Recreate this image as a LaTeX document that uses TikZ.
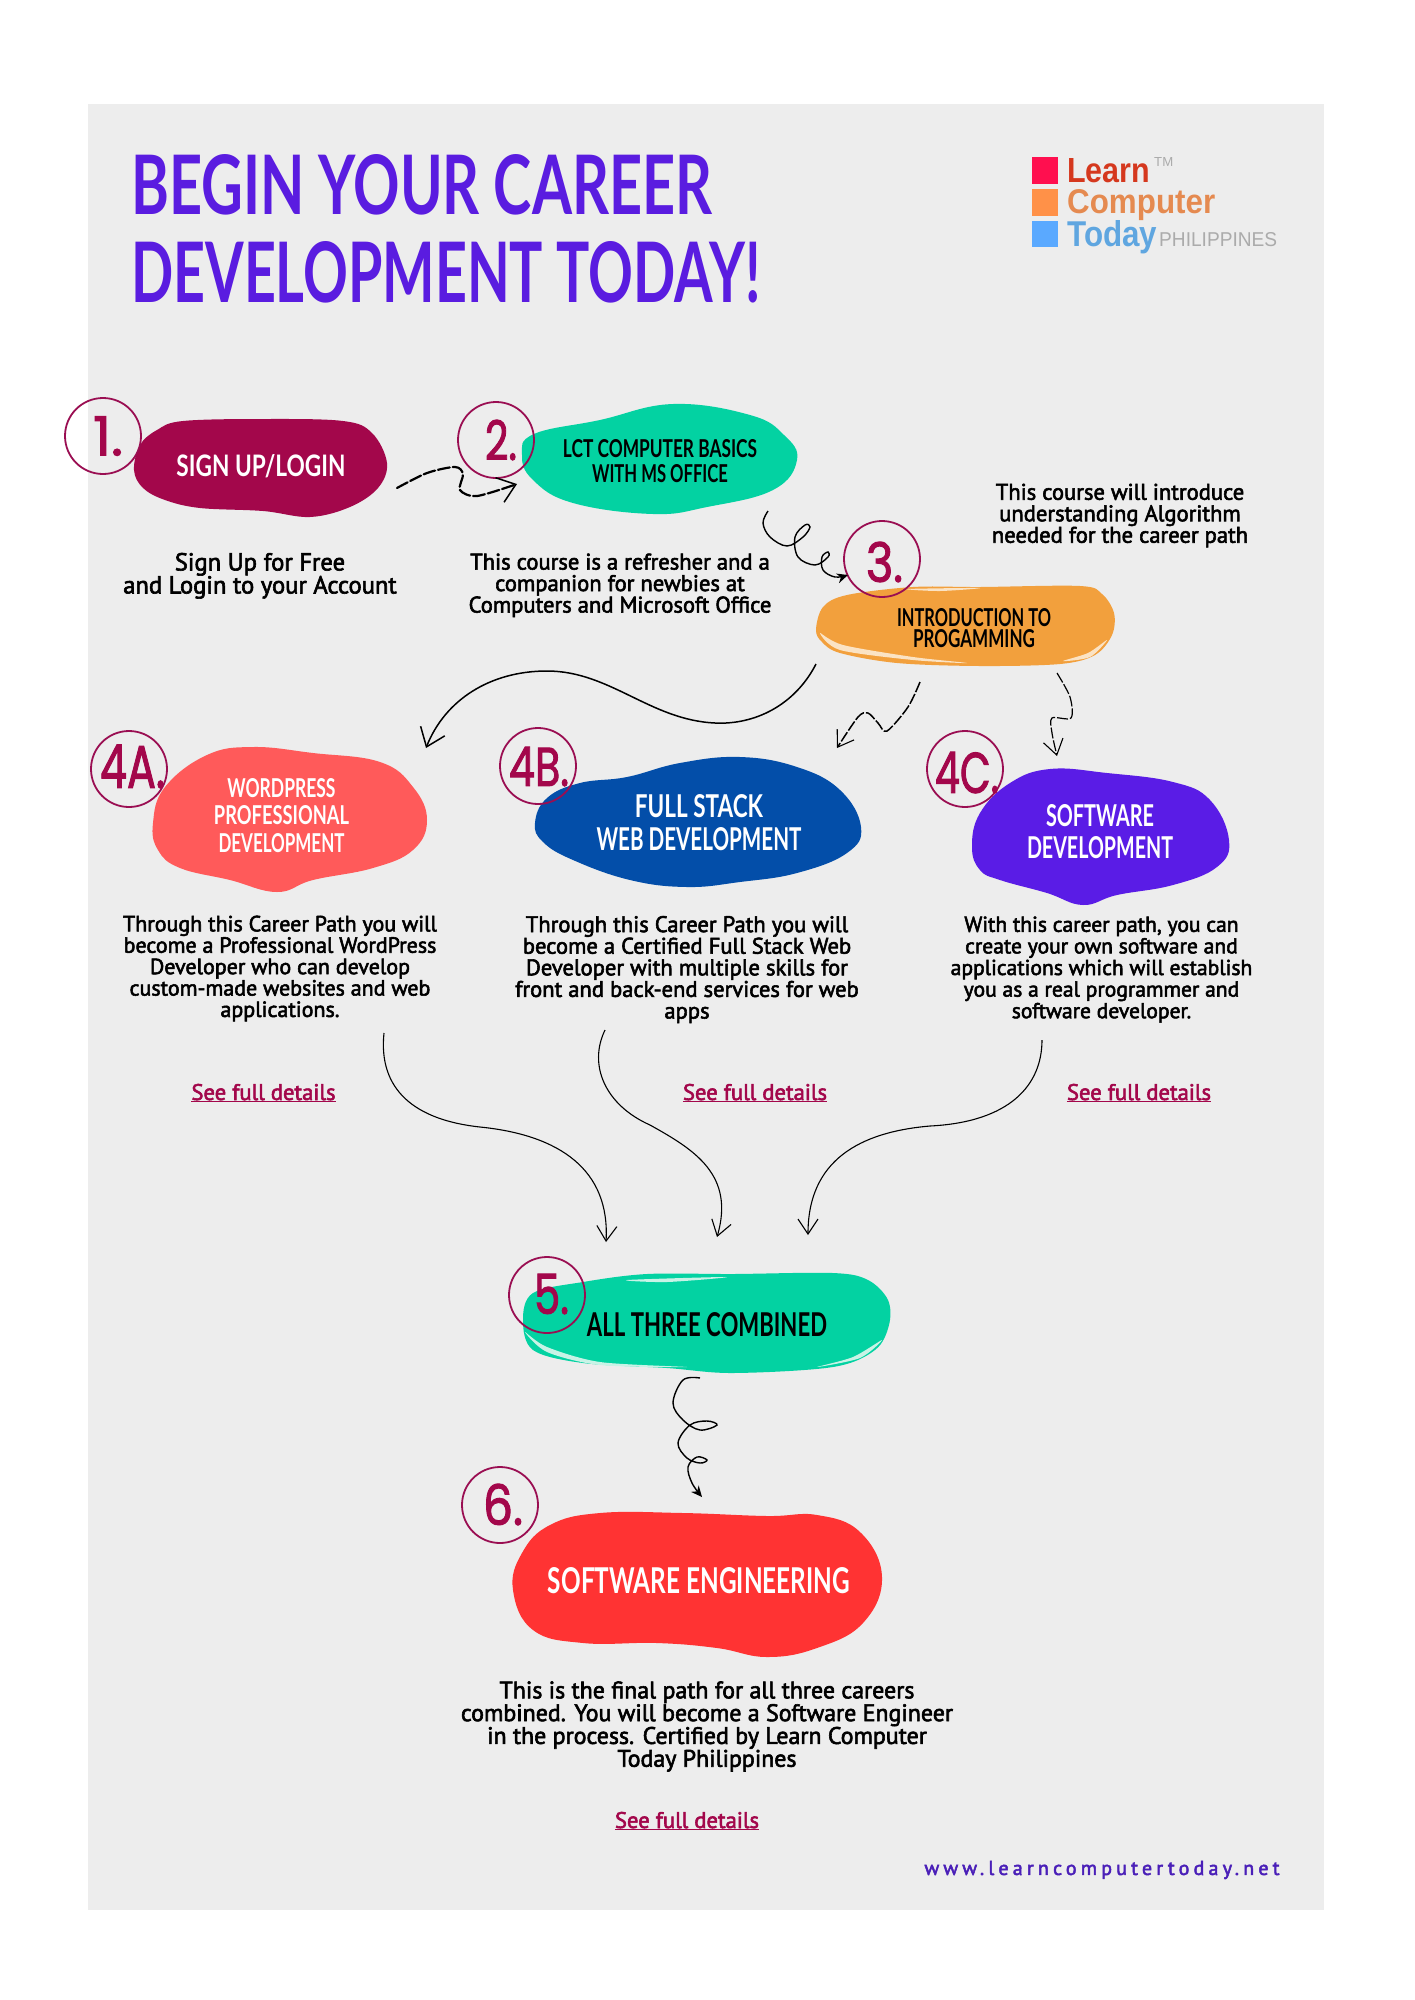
\documentclass[tikz,border=0pt]{standalone}
\usepackage{fontspec}
\usepackage{graphicx}
\usetikzlibrary{arrows.meta}
\newfontfamily\handf{Lato}
\newfontfamily\bodyf[FakeStretch=1.0,FakeBold=2.5]{PT Sans}
\newfontfamily\numf[FakeBold=2]{Poppins}
\newfontfamily\logof{Liberation Sans}
\definecolor{panel}{HTML}{EDEDED}
\definecolor{titlec}{HTML}{5A1CE0}
\definecolor{maroon}{HTML}{A3074B}
\definecolor{ringc}{HTML}{9A0E52}
\definecolor{green1}{HTML}{03D2A2}
\definecolor{orange1}{HTML}{F2A03D}
\definecolor{coral}{HTML}{FF5A5A}
\definecolor{blue1}{HTML}{034EA9}
\definecolor{violet1}{HTML}{5A1CE6}
\definecolor{red1}{HTML}{FF3333}
\definecolor{paleor}{HTML}{FBE3C4}
\definecolor{palegr}{HTML}{C8F3E6}
\definecolor{urlc}{HTML}{4A1FB8}
\newcommand{\lab}[3]{\resizebox{#1pt}{#2pt}{#3}}
\tikzset{
 labtext/.style={font=\handf\bfseries\fontsize{10}{#1}\selectfont,align=center,inner sep=0pt},
 numtext/.style={font=\numf\fontsize{10}{12}\selectfont,text=maroon,inner sep=0pt},
 ring/.style={circle,draw=ringc,line width=1.8pt,minimum size=76pt,inner sep=0pt},
 para/.style 2 args={font=\bodyf\fontsize{#1}{#2}\selectfont,align=center,inner sep=0pt,text=black},
 details/.style={font=\bodyf\fontsize{#1}{#1}\selectfont,text=maroon,inner sep=0pt,anchor=base},
 dashline/.style={line width=2.2pt,dash pattern=on 12pt off 3pt,line cap=round},
 thinline/.style={line width=1.1pt},
 barb/.style={-{Straight Barb[length=17pt,width=26pt,line width=1.5pt]}},
 thinbarb/.style={-{Straight Barb[length=15pt,width=20pt,line width=1.1pt]}},
 smallbarb/.style={-{Stealth[length=11pt,width=10pt]}},
}
\begin{document}
\begin{tikzpicture}[x=1pt,y=-1pt]
\useasboundingbox (0,0) rectangle (1414,2000);
\fill[white] (0,0) rectangle (1414,2000);
\fill[panel] (88,104) rectangle (1324,1910);

% title
\node[labtext=88,align=left,text=titlec,anchor=north west] (title) at (131,154) {\lab{581}{60}{BEGIN YOUR CAREER}\\\lab{629}{61}{DEVELOPMENT TODAY!}};

% logo
\fill[fill={rgb,255:red,255;green,15;blue,79}] (1032,157) rectangle (1058,184);
\fill[fill={rgb,255:red,255;green,145;blue,72}] (1032,189) rectangle (1058,216);
\fill[fill={rgb,255:red,90;green,169;blue,255}] (1032,221) rectangle (1058,247);
\node[anchor=base west,inner sep=0pt,font=\logof\bfseries\fontsize{33}{33}\selectfont,text={rgb,255:red,213;green,56;blue,30}] (logo1) at (1067,182) {\lab{83}{24}{Learn}};
\node[anchor=base west,inner sep=0pt,font=\logof\bfseries\fontsize{33}{33}\selectfont,text={rgb,255:red,229;green,138;blue,80}] (logo2) at (1067,213) {\lab{148}{24}{Computer}};
\node[anchor=base west,inner sep=0pt,font=\logof\bfseries\fontsize{33}{33}\selectfont,text={rgb,255:red,95;green,166;blue,224}] (logo3) at (1067,246) {\lab{90}{26}{Today}};
\node[anchor=base west,inner sep=0pt,font=\logof\fontsize{19}{19}\selectfont,text={rgb,255:red,171;green,171;blue,171}] (logo4) at (1159,246) {\lab{118}{14}{PHILIPPINES}};
\node[anchor=base west,inner sep=0pt,font=\logof\fontsize{12}{12}\selectfont,text={rgb,255:red,171;green,171;blue,171}] (logotm) at (1154,166) {\lab{19}{9}{TM}};

% blobs
\fill[maroon] plot[smooth cycle,tension=0.6] coordinates {(134,470)(140,445)(157,430)(183,421)(263,419)(343,421)(372,433)(387,463)(378,488)(350,507)(310,517)(263,511)(200,508)(165,500)(143,488)};
\fill[green1] plot[smooth cycle,tension=0.7] coordinates {(522,455)(534,434)(600,420)(673,404)(750,415)(784,435)(797,460)(773,490)(707,507)(653,514)(573,503)(533,480)};
\fill[orange1] plot[smooth cycle,tension=0.55] coordinates {(816,630)(823,607)(847,595)(913,587)(980,587)(1080,586)(1102,594)(1114,613)(1112,635)(1095,655)(1060,664)(980,666)(897,663)(840,653)(822,642)};
\fill[paleor] plot[smooth cycle,tension=0.5] coordinates {(820,633)(840,650)(913,660)(967,663)(913,657)(843,645)};
\fill[paleor] plot[smooth cycle,tension=0.5] coordinates {(1107,640)(1090,657)(1063,661)(1088,653)};
\fill[paleor] plot[smooth cycle,tension=0.5] coordinates {(907,589)(980,588)(940,591)};
\fill[coral] plot[smooth cycle,tension=0.7] coordinates {(153,823)(165,787)(207,755)(253,747)(313,753)(380,762)(413,787)(427,820)(413,850)(373,868)(313,880)(277,892)(230,880)(180,868)(158,850)};
\fill[blue1] plot[smooth cycle,tension=0.7] coordinates {(535,823)(547,798)(580,783)(627,777)(680,763)(740,757)(797,767)(840,790)(861,827)(847,853)(797,873)(740,882)(687,887)(630,880)(573,860)(543,842)};
\fill[violet1] plot[smooth cycle,tension=0.7] coordinates {(972,847)(980,813)(1010,783)(1050,769)(1107,773)(1173,782)(1210,800)(1229,840)(1217,867)(1173,885)(1117,895)(1083,905)(1047,893)(1000,880)(980,870)};
\fill[green1] plot[smooth cycle,tension=0.55] coordinates {(523,1320)(533,1293)(583,1282)(647,1274)(733,1274)(833,1273)(868,1280)(888,1300)(889,1325)(875,1350)(833,1367)(733,1373)(667,1368)(583,1363)(533,1350)};
\fill[palegr] plot[smooth cycle,tension=0.5] coordinates {(525,1332)(547,1352)(600,1365)(687,1367)(600,1362)(547,1347)};
\fill[palegr] plot[smooth cycle,tension=0.5] coordinates {(882,1340)(860,1358)(817,1367)(853,1357)};
\fill[palegr] plot[smooth cycle,tension=0.5] coordinates {(627,1280)(727,1277)(667,1282)};
\fill[red1] plot[smooth cycle,tension=0.7] coordinates {(513,1590)(522,1553)(550,1525)(600,1513)(683,1513)(767,1516)(817,1515)(860,1532)(882,1577)(863,1623)(817,1648)(767,1657)(717,1648)(657,1643)(583,1643)(533,1630)};

% blob labels
\node[labtext=25,text=white] (b1) at (261,466) {\lab{169}{22}{SIGN UP/LOGIN}};
\node[labtext=25,text=black] (b2) at (660,461.5) {\lab{194}{18}{LCT COMPUTER BASICS}\\\lab{136}{18}{WITH MS OFFICE}};
\node[labtext=21,text=black] (b3) at (974,628) {\lab{154}{18}{INTRODUCTION TO}\\\lab{122}{18}{PROGAMMING}};
\node[labtext=27.5,text=white] (b4a) at (281.5,815.5) {\lab{108}{19}{WORDPRESS}\\\lab{135}{19}{PROFESSIONAL}\\\lab{126}{19}{DEVELOPMENT}};
\node[labtext=33,text=white] (b4b) at (699,823) {\lab{128}{23}{FULL STACK}\\\lab{205}{23}{WEB DEVELOPMENT}};
\node[labtext=32,text=white] (b4c) at (1100,832) {\lab{108}{22}{SOFTWARE}\\\lab{146}{22}{DEVELOPMENT}};
\node[labtext=25,text=black] (b5) at (707,1325) {\lab{240}{24}{ALL THREE COMBINED}};
\node[labtext=25,text=white] (b6) at (699,1581) {\lab{302}{26}{SOFTWARE ENGINEERING}};

% rings and numbers
\node[ring] (c1) at (103,436) {};
\node[ring] (c2) at (496,440) {};
\node[ring] (c3) at (882,559) {};
\node[ring] (c4a) at (129,769) {};
\node[ring] (c4b) at (538,766) {};
\node[ring] (c4c) at (965,769) {};
\node[ring] (c5) at (547,1295) {};
\node[ring] (c6) at (500,1505) {};
\node[numtext] (n1) at (108,436) {\lab{30}{39}{1.}};
\node[numtext] (n2) at (501,440) {\lab{32}{40}{2.}};
\node[numtext] (n3) at (884.5,562) {\lab{37}{40}{3.}};
\node[numtext] (n4a) at (132.5,766.5) {\lab{65}{43}{4A.}};
\node[numtext] (n4b) at (539,766.5) {\lab{60}{39}{4B.}};
\node[numtext] (n4c) at (967,772.5) {\lab{64}{41}{4C.}};
\node[numtext] (n5) at (551.5,1294) {\lab{35}{40}{5.}};
\node[numtext] (n6) at (503,1504.5) {\lab{40}{41}{6.}};

% descriptions
\node[para={24.6}{23}] (d1) at (260,575.8) {Sign Up for Free\\and Login to your Account};
\node[para={22.6}{21.5}] (d2) at (620,585.3) {This course is a refresher and a\\companion for newbies at\\Computers and Microsoft Office};
\node[para={22.6}{21.5}] (d3) at (1120,515.5) {This course will introduce\\understanding Algorithm\\needed for the career path};
\node[para={22}{21.4}] (d4a) at (280,968.5) {Through this Career Path you will\\become a Professional WordPress\\Developer who can develop\\custom-made websites and web\\applications.};
\node[para={22.6}{21.6}] (d4b) at (687,969.5) {Through this Career Path you will\\become a Certified Full Stack Web\\Developer with multiple skills for\\front and back-end services for web\\apps};
\node[para={21.6}{21.6}] (d4c) at (1101.5,969.5) {With this career path, you can\\create your own software and\\applications which will establish\\you as a real programmer and\\software developer.};
\node[para={23.9}{22.8}] (d6) at (707,1726.5) {This is the final path for all three careers\\combined. You will become a Software Engineer\\in the process. Certified by Learn Computer\\Today Philippines};

% links
\node[details=22.6] (s4a) at (263.5,1100) {\underline{See full details}};
\node[details=22.6] (s4b) at (755,1100) {\underline{See full details}};
\node[details=22.6] (s4c) at (1139,1100) {\underline{See full details}};
\node[details=22.6] (s6) at (687,1828) {\underline{See full details}};
\node[inner sep=0pt,text=urlc,font=\bodyf\fontsize{20}{20}\addfontfeature{LetterSpace=21}\selectfont] (url) at (1102,1870) {www.learncomputertoday.net};

% connector ends
\coordinate (a12s) at (397,488);
\coordinate (a12e) at (517,484);
\coordinate (a23s) at (768,511);
\coordinate (a23e) at (848,575);
\coordinate (a34as) at (816,664);
\coordinate (a34ae) at (426,748);
\coordinate (a34bs) at (920,682);
\coordinate (a34be) at (837,748);
\coordinate (a34cs) at (1057,673);
\coordinate (a34ce) at (1057,756);
\coordinate (a4a5s) at (384,1033);
\coordinate (a4a5e) at (606,1242);
\coordinate (a4b5s) at (605,1030);
\coordinate (a4b5e) at (717,1237);
\coordinate (a4c5s) at (1042,1040);
\coordinate (a4c5e) at (808,1235);
\coordinate (a56s) at (700,1378);
\coordinate (a56e) at (702,1497);

% connectors
\draw[dashline,barb] plot[smooth,tension=0.5] coordinates {(a12s)(427,473)(455,467)(463,474)(460,490)(477,496)(a12e)};
\draw[line width=1.4pt,smallbarb] plot[smooth,tension=0.6] coordinates {(a23s)(763,523)(770,537)(787,546)(803,537)(810,527)(805,525)(795,537)(798,557)(815,565)(828,557)(828,552)(822,557)(823,570)(835,577)(a23e)};
\draw[line width=1.5pt,barb] (a34as) .. controls (795,705) and (755,725) .. (715,723) .. controls (650,720) and (610,671) .. (547,671) .. controls (490,671) and (445,700) .. (a34ae);
\draw[line width=1.5pt,dash pattern=on 11pt off 2pt,thinbarb] plot[smooth,tension=0.5] coordinates {(a34bs)(908,707)(887,731)(878,723)(868,713)(858,717)(a34be)};
\draw[line width=1.2pt,dash pattern=on 11pt off 2pt,thinbarb] plot[smooth,tension=0.5] coordinates {(a34cs)(1070,697)(1071,718)(1052,718)(1052,733)(a34ce)};
\draw[thinline,thinbarb] (a4a5s) .. controls (378,1090) and (415,1120) .. (480,1127) .. controls (560,1135) and (610,1170) .. (a4a5e);
\draw[thinline,thinbarb] (a4b5s) .. controls (588,1065) and (605,1105) .. (650,1125) .. controls (695,1150) and (735,1175) .. (a4b5e);
\draw[thinline,thinbarb] (a4c5s) .. controls (1042,1085) and (1010,1122) .. (930,1126) .. controls (860,1132) and (808,1160) .. (a4c5e);
\draw[line width=1.4pt,smallbarb] plot[smooth,tension=0.6] coordinates {(a56s)(683,1380)(673,1403)(683,1420)(700,1430)(717,1425)(707,1421)(690,1425)(678,1443)(687,1458)(700,1463)(707,1460)(697,1457)(688,1467)(692,1483)(a56e)};
\end{tikzpicture}
\end{document}
